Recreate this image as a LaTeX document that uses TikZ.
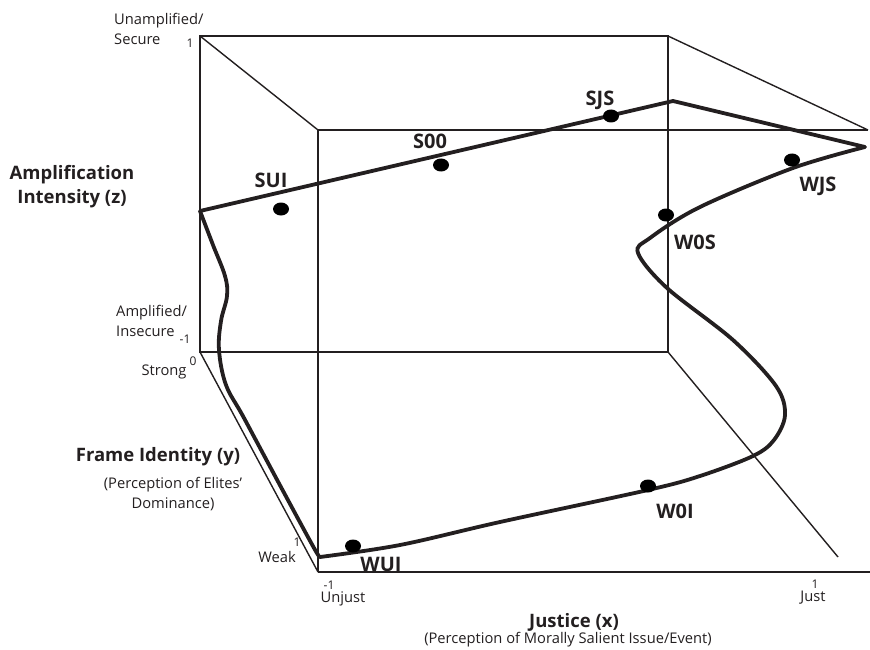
\documentclass[tikz,border=0pt]{standalone}
\usepackage{fontspec}
\setmainfont{Open Sans}
\usetikzlibrary{shapes.geometric}
\definecolor{ink}{RGB}{35,31,32}
\begin{document}
\begin{tikzpicture}[x=1pt,y=-1pt,
  edge/.style={line width=1.4pt, draw=ink},
  curve/.style={line width=3.8pt, line join=round, line cap=round, draw=ink},
  dot/.style={ellipse, fill=black, minimum width=16pt, minimum height=13pt, inner sep=0pt},
  lab/.style={font=\bfseries\fontsize{20}{22}\selectfont, text=ink, inner sep=0pt},
  axis/.style={font=\bfseries\fontsize{18.5}{24}\selectfont, text=ink, align=center, inner sep=0pt},
  sub/.style={font=\fontsize{14.7}{20}\selectfont, text=ink, align=center, inner sep=0pt},
  small/.style={font=\fontsize{14.7}{19.5}\selectfont, text=ink, align=left, inner sep=0pt},
  tick/.style={font=\fontsize{12}{12}\selectfont, text=ink, inner sep=0pt}]
\useasboundingbox (0,0) rectangle (870,650);

% corners of the cube
\coordinate (btl) at (200,36);
\coordinate (btr) at (668,36);
\coordinate (bbl) at (200,352);
\coordinate (bbr) at (668,352);
\coordinate (ftl) at (318,130);
\coordinate (ftr) at (868,130);
\coordinate (fbl) at (318,572);
\coordinate (fbr) at (870,572);
\coordinate (bre) at (838,557);

% cube edges
\draw[edge] (btl) -- (btr) -- (bbr) -- (bbl) -- cycle;
\draw[edge] (btl) -- (ftl);
\draw[edge] (btr) -- (ftr);
\draw[edge] (ftl) -- (ftr);
\draw[edge] (ftl) -- (fbl);
\draw[edge] (bbl) -- (fbl);
\draw[edge] (fbl) -- (fbr);
\draw[edge] (bbr) -- (bre);

% trajectory corners
\coordinate (k1) at (200,211);
\coordinate (k2) at (673,101);
\coordinate (k3) at (865,147);
\coordinate (k4) at (320,557);

% trajectory
\draw[curve] (k1) -- (k2) -- (k3) -- plot[smooth, tension=0.55] coordinates
  {(865,147) (793,168) (700,207) (650,238) (638,253) (667,288) (733,340)
   (776,386) (785,415) (774,440) (753,456) (700,476) (648,490) (500,522)
   (400,545) (320,557)};
\draw[curve] (k1) -- plot[smooth, tension=0.6] coordinates
  {(200,211) (213,245) (225,276) (227,296) (221,321) (219,350) (226,385)
   (244,418) (282,489) (314,548) (320,557)};

% states
\node[dot] (dSUI) at (281,209) {};
\node[dot] (dS00) at (441,165) {};
\node[dot] (dSJS) at (611,116) {};
\node[dot] (dWJS) at (792,160) {};
\node[dot] (dW0S) at (666,215) {};
\node[dot] (dW0I) at (648,486) {};
\node[dot] (dWUI) at (353,546) {};

\node[lab] (lSUI) at (271,180) {SUI};
\node[lab] (lS00) at (430,141) {S00};
\node[lab] (lSJS) at (600,100) {SJS};
\node[lab] (lWJS) at (818,186) {WJS};
\node[lab] (lW0S) at (695,242) {W0S};
\node[lab] (lW0I) at (675,511) {W0I};
\node[lab] (lWUI) at (381,564) {WUI};

% axis titles
\node[axis] (tz) at (72,187) {Amplification\\Intensity (z)};
\node[axis] (ty) at (158,457) {Frame Identity (y)};
\node[sub] (sy) at (173,494) {(Perception of Elites'\\Dominance)};
\node[axis] (tx) at (574,622) {Justice (x)};
\node[sub] (sx) at (568,640) {(Perception of Morally Salient Issue/Event)};

% scale ends
\node[small, anchor=west] (zhi) at (114,29) {Unamplified/\\Secure};
\node[tick] (zhin) at (190,43) {1};
\node[small, anchor=west] (zlo) at (116,321) {Amplified/\\Insecure};
\node[tick] (zlon) at (185,339) {-1};
\node[tick] (ylon) at (193,361) {0};
\node[small] (ylo) at (164,372) {Strong};
\node[tick] (yhin) at (297,542) {1};
\node[small] (yhi) at (277,557) {Weak};
\node[tick] (xlon) at (329,585) {-1};
\node[small] (xlo) at (343,599) {Unjust};
\node[tick] (xhin) at (815,584) {1};
\node[small] (xhi) at (813,598) {Just};
\end{tikzpicture}
\end{document}
